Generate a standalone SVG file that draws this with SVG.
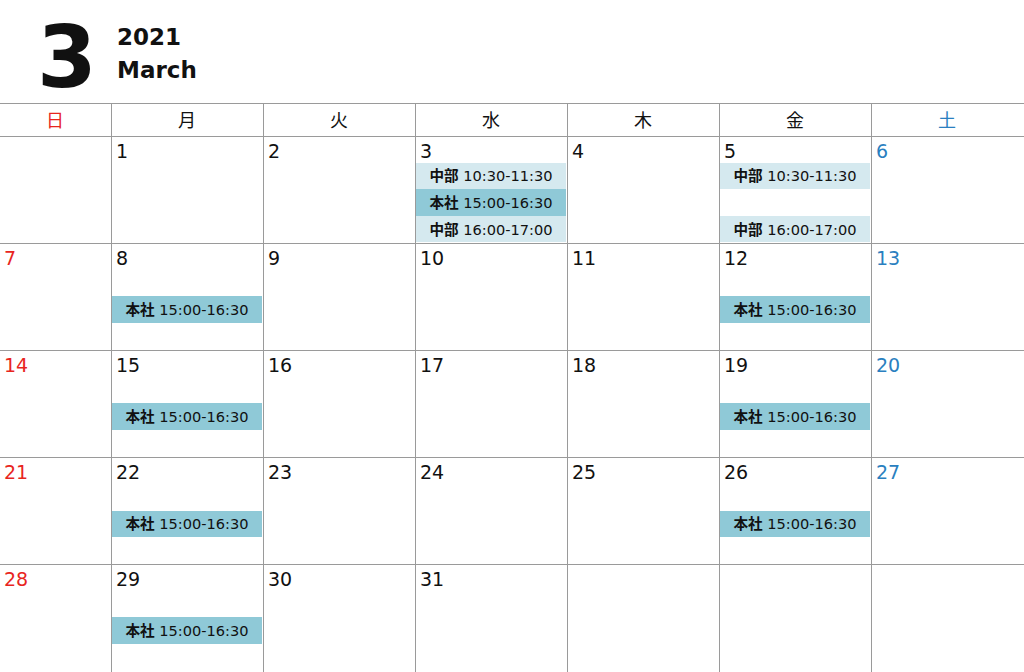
<svg xmlns="http://www.w3.org/2000/svg" width="1024" height="672" viewBox="0 0 1024 672">
<style>
text{font-family:"DejaVu Sans","Noto Sans CJK JP",sans-serif;fill:#111}
.big{font-size:86px;font-weight:bold}
.ym{font-size:23px;font-weight:bold}
.hd{font-size:18px;text-anchor:middle}
.num{font-size:19px}
.sun{fill:#e8251e}
.sat{fill:#2a7fc0}
.ev{font-size:14.6px;text-anchor:middle}
.ev tspan.b{font-weight:bold}
.lt{fill:#d5e9ef}
.dk{fill:#8fc9d7}
.grid line{stroke:#9a9a9a;stroke-width:1}
</style>
<rect width="1024" height="672" fill="#fff"/>
<g id="title">
<text class="big" x="37" y="87">3</text>
<text class="ym" x="117" y="45">2021</text>
<text class="ym" x="117" y="78">March</text>
</g>
<g id="events">
<rect class="lt" x="416" y="163" width="150" height="26"/>
<rect class="dk" x="416" y="189" width="150" height="27"/>
<rect class="lt" x="416" y="216" width="150" height="26"/>
<text class="ev" x="491" y="181"><tspan class="b">中部</tspan> 10:30-11:30</text>
<text class="ev" x="491" y="208"><tspan class="b">本社</tspan> 15:00-16:30</text>
<text class="ev" x="491" y="235"><tspan class="b">中部</tspan> 16:00-17:00</text>
<rect class="lt" x="720" y="163" width="150" height="26"/>
<rect class="lt" x="720" y="216" width="150" height="26"/>
<text class="ev" x="795" y="181"><tspan class="b">中部</tspan> 10:30-11:30</text>
<text class="ev" x="795" y="235"><tspan class="b">中部</tspan> 16:00-17:00</text>
<rect class="dk" x="112" y="296" width="150" height="27"/>
<text class="ev" x="187" y="315"><tspan class="b">本社</tspan> 15:00-16:30</text>
<rect class="dk" x="720" y="296" width="150" height="27"/>
<text class="ev" x="795" y="315"><tspan class="b">本社</tspan> 15:00-16:30</text>
<rect class="dk" x="112" y="403" width="150" height="27"/>
<text class="ev" x="187" y="422"><tspan class="b">本社</tspan> 15:00-16:30</text>
<rect class="dk" x="720" y="403" width="150" height="27"/>
<text class="ev" x="795" y="422"><tspan class="b">本社</tspan> 15:00-16:30</text>
<rect class="dk" x="112" y="511" width="150" height="26"/>
<text class="ev" x="187" y="529"><tspan class="b">本社</tspan> 15:00-16:30</text>
<rect class="dk" x="720" y="511" width="150" height="26"/>
<text class="ev" x="795" y="529"><tspan class="b">本社</tspan> 15:00-16:30</text>
<rect class="dk" x="112" y="617" width="150" height="27"/>
<text class="ev" x="187" y="636"><tspan class="b">本社</tspan> 15:00-16:30</text>
</g>
<g id="connectors" class="grid">
<line x1="0" y1="103.5" x2="1024" y2="103.5"/>
<line x1="0" y1="136.5" x2="1024" y2="136.5"/>
<line x1="0" y1="243.5" x2="1024" y2="243.5"/>
<line x1="0" y1="350.5" x2="1024" y2="350.5"/>
<line x1="0" y1="457.5" x2="1024" y2="457.5"/>
<line x1="0" y1="564.5" x2="1024" y2="564.5"/>
<line x1="111.5" y1="103" x2="111.5" y2="672"/>
<line x1="263.5" y1="103" x2="263.5" y2="672"/>
<line x1="415.5" y1="103" x2="415.5" y2="672"/>
<line x1="567.5" y1="103" x2="567.5" y2="672"/>
<line x1="719.5" y1="103" x2="719.5" y2="672"/>
<line x1="871.5" y1="103" x2="871.5" y2="672"/>
</g>
<g id="header">
<text class="hd sun" x="55" y="127">日</text>
<text class="hd" x="187" y="127">月</text>
<text class="hd" x="339" y="127">火</text>
<text class="hd" x="491" y="127">水</text>
<text class="hd" x="643" y="127">木</text>
<text class="hd" x="795" y="127">金</text>
<text class="hd sat" x="947" y="127">土</text>
</g>
<g id="days">
<text class="num" x="116" y="158">1</text>
<text class="num" x="268" y="158">2</text>
<text class="num" x="420" y="158">3</text>
<text class="num" x="572" y="158">4</text>
<text class="num" x="724" y="158">5</text>
<text class="num sat" x="876" y="158">6</text>
<text class="num sun" x="4" y="265">7</text>
<text class="num" x="116" y="265">8</text>
<text class="num" x="268" y="265">9</text>
<text class="num" x="420" y="265">10</text>
<text class="num" x="572" y="265">11</text>
<text class="num" x="724" y="265">12</text>
<text class="num sat" x="876" y="265">13</text>
<text class="num sun" x="4" y="372">14</text>
<text class="num" x="116" y="372">15</text>
<text class="num" x="268" y="372">16</text>
<text class="num" x="420" y="372">17</text>
<text class="num" x="572" y="372">18</text>
<text class="num" x="724" y="372">19</text>
<text class="num sat" x="876" y="372">20</text>
<text class="num sun" x="4" y="479">21</text>
<text class="num" x="116" y="479">22</text>
<text class="num" x="268" y="479">23</text>
<text class="num" x="420" y="479">24</text>
<text class="num" x="572" y="479">25</text>
<text class="num" x="724" y="479">26</text>
<text class="num sat" x="876" y="479">27</text>
<text class="num sun" x="4" y="586">28</text>
<text class="num" x="116" y="586">29</text>
<text class="num" x="268" y="586">30</text>
<text class="num" x="420" y="586">31</text>
</g>
</svg>
